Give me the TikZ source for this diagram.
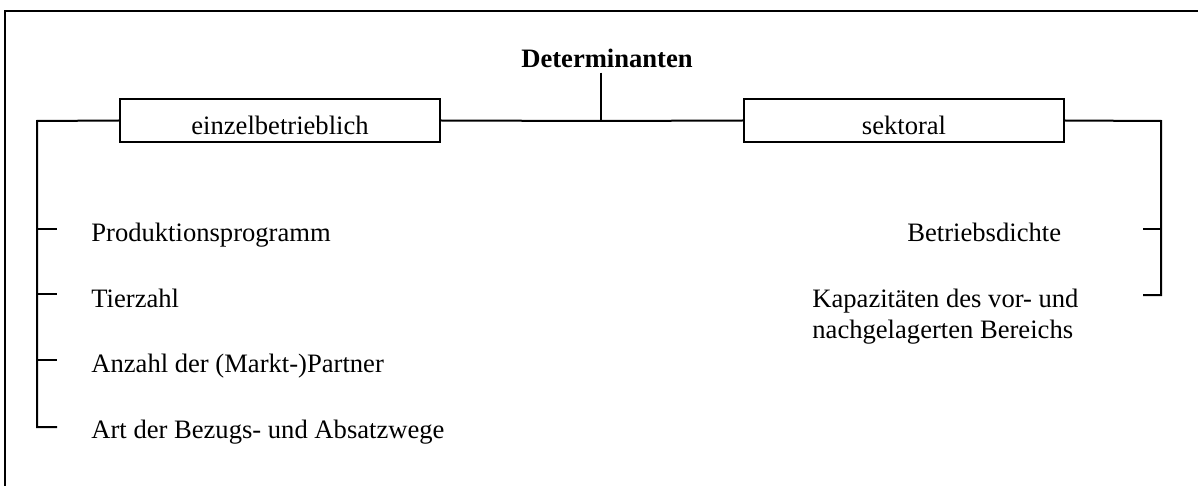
\documentclass[tikz,border=0pt]{standalone}
\usepackage{fontspec}
\setmainfont{Liberation Serif}
\begin{document}
\begin{tikzpicture}[x=0.5pt,y=-0.5pt,
  txt/.style={inner sep=0pt,font=\fontsize{13.3}{15.5}\selectfont},
  catbox/.style={draw,line width=1pt,inner sep=0pt,minimum width=160pt,
    text height=18pt,text depth=3.5pt,font=\fontsize{13.3}{15.5}\selectfont},
  conn/.style={line width=1pt}]
\useasboundingbox (0,0) rectangle (1198,486);
\begin{scope}
\clip (0,0) rectangle (1198,486);
\draw[line width=1pt] (5,11) rectangle (1220,520);
\end{scope}
% title
\node[txt,font=\fontsize{13.3}{15.5}\selectfont\bfseries,anchor=base] (det) at (607,68) {Determinanten};
\coordinate (j) at (601,121);
% boxes
\node[catbox] (b1) at (280,120.5) {einzelbetrieblich};
\node[catbox] (b2) at (904,120.5) {sektoral};
% items left
\node[txt,anchor=base west] (p1) at (91,242) {Produktionsprogramm};
\node[txt,anchor=base west] (p2) at (91,307) {Tierzahl};
\node[txt,anchor=base west] (p3) at (91,372) {Anzahl der (Markt-)Partner};
\node[txt,anchor=base west] (p4) at (91,438) {Art der Bezugs- und Absatzwege};
% items right
\node[txt,anchor=base west] (q1) at (907,242) {Betriebsdichte};
\node[txt,anchor=base west,align=left] (q2) at (812,338) {Kapazitäten des vor- und\\nachgelagerten Bereichs};
% connectors
\coordinate (lc) at (37,121);
\coordinate (l1) at (37,229); \coordinate (t1) at (57,229);
\coordinate (l2) at (37,294); \coordinate (t2) at (57,294);
\coordinate (l3) at (37,360); \coordinate (t3) at (57,360);
\coordinate (l4) at (37,427); \coordinate (t4) at (57,427);
\coordinate (rc) at (1161,121);
\coordinate (r1) at (1161,229); \coordinate (s1) at (1143,229);
\coordinate (r2) at (1161,295); \coordinate (s2) at (1143,295);
\draw[conn] ([yshift=-2pt]det.south -| j) -- (j);
\draw[conn] (b1.east) -- (j) -- (b2.west);
\draw[conn] (b1.west) -- (lc) -- (l4) -- (t4);
\draw[conn] (l1) -- (t1);
\draw[conn] (l2) -- (t2);
\draw[conn] (l3) -- (t3);
\draw[conn] (b2.east) -- (rc) -- (r2) -- (s2);
\draw[conn] (r1) -- (s1);
\end{tikzpicture}
\end{document}
